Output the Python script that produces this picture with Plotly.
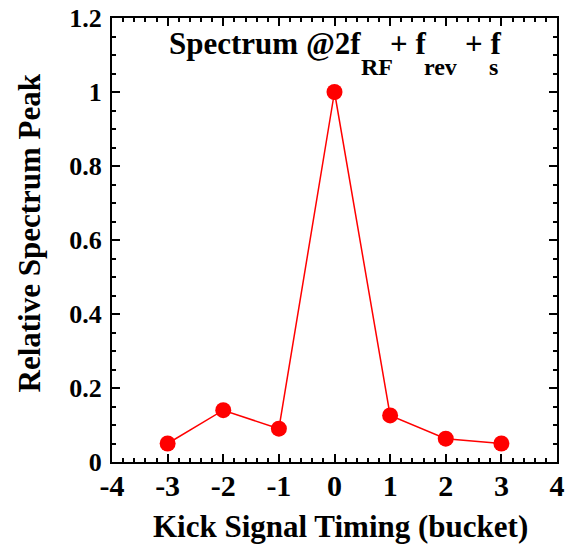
import plotly.graph_objects as go

timing = [-3, -2, -1, 0, 1, 2, 3]
relative_peak = [0.05, 0.14, 0.09, 1.0, 0.126, 0.063, 0.05]

x_tick_vals = [-4, -3, -2, -1, 0, 1, 2, 3, 4]
x_tick_text = ["-4", "-3", "-2", "-1", "0", "1", "2", "3", "4"]
y_tick_vals = [0, 0.2, 0.4, 0.6, 0.8, 1.0, 1.2]
y_tick_text = ["0", "0.2", "0.4", "0.6", "0.8", "1", "1.2"]

FONT = "Liberation Serif, Tinos, Nimbus Roman, FreeSerif, DejaVu Serif, serif"

fig = go.Figure()
fig.add_trace(go.Scatter(
    x=timing, y=relative_peak, mode="lines+markers",
    line=dict(color="#ff0000", width=1.5),
    marker=dict(color="#ff0000", size=16),
    showlegend=False,
))

W, H = 574, 545
L, R, T, B = 112, 17, 18, 83
pw, ph = W - L - R, H - T - B

def px(xp):
    return (xp - L) / pw

def py(yp):
    return (H - B - yp) / ph

ann = []
pieces = [
    ("Spectrum @2f", 167, 43.5, 31),
    ("RF", 359, 67, 24),
    ("+ f", 388, 43.5, 31),
    ("rev", 422, 67, 24),
    ("+ f", 463, 43.5, 31),
    ("s", 487, 67, 24),
]
for txt, xx, yy, sz in pieces:
    ann.append(dict(text="<b>%s</b>" % txt, x=px(xx), y=py(yy), xref="paper", yref="paper",
                    xanchor="left", yanchor="middle", showarrow=False,
                    font=dict(family=FONT, size=sz, color="black", weight="bold")))
ann.append(dict(text="<b>Kick Signal Timing (bucket)</b>", x=px(340), y=py(526.5),
                xref="paper", yref="paper", xanchor="center", yanchor="middle",
                showarrow=False, font=dict(family=FONT, size=31, color="black", weight="bold")))
ann.append(dict(text="<b>Relative Spectrum Peak</b>", x=px(28.5), y=py(233),
                xref="paper", yref="paper", xanchor="center", yanchor="middle",
                textangle=-90, showarrow=False, font=dict(family=FONT, size=31, color="black", weight="bold")))

axis_common = dict(showline=True, linewidth=2, linecolor="black", mirror="ticks",
                   ticks="inside", ticklen=8, tickwidth=2, tickcolor="black",
                   showgrid=False, zeroline=False, automargin=False)

fig.update_layout(
    template="none",
    width=W, height=H,
    margin=dict(l=L, r=R, t=T, b=B),
    paper_bgcolor="white", plot_bgcolor="white",
    font=dict(family=FONT, color="black"),
    annotations=ann,
    xaxis=dict(range=[-4, 4], tickvals=x_tick_vals, ticktext=x_tick_text,
               tickfont=dict(family=FONT, size=30, weight="bold"), ticklabelstandoff=-4,
               minor=dict(dtick=0.2, ticklen=4, tickwidth=1.5, ticks="inside", tickcolor="black"),
               **axis_common),
    yaxis=dict(range=[0, 1.2], tickvals=y_tick_vals, ticktext=y_tick_text,
               tickfont=dict(family=FONT, size=26, weight="bold"), ticklabelstandoff=3,
               minor=dict(dtick=0.05, ticklen=4, tickwidth=1.5, ticks="inside", tickcolor="black"),
               **axis_common),
)

fig.write_html("out.html")
